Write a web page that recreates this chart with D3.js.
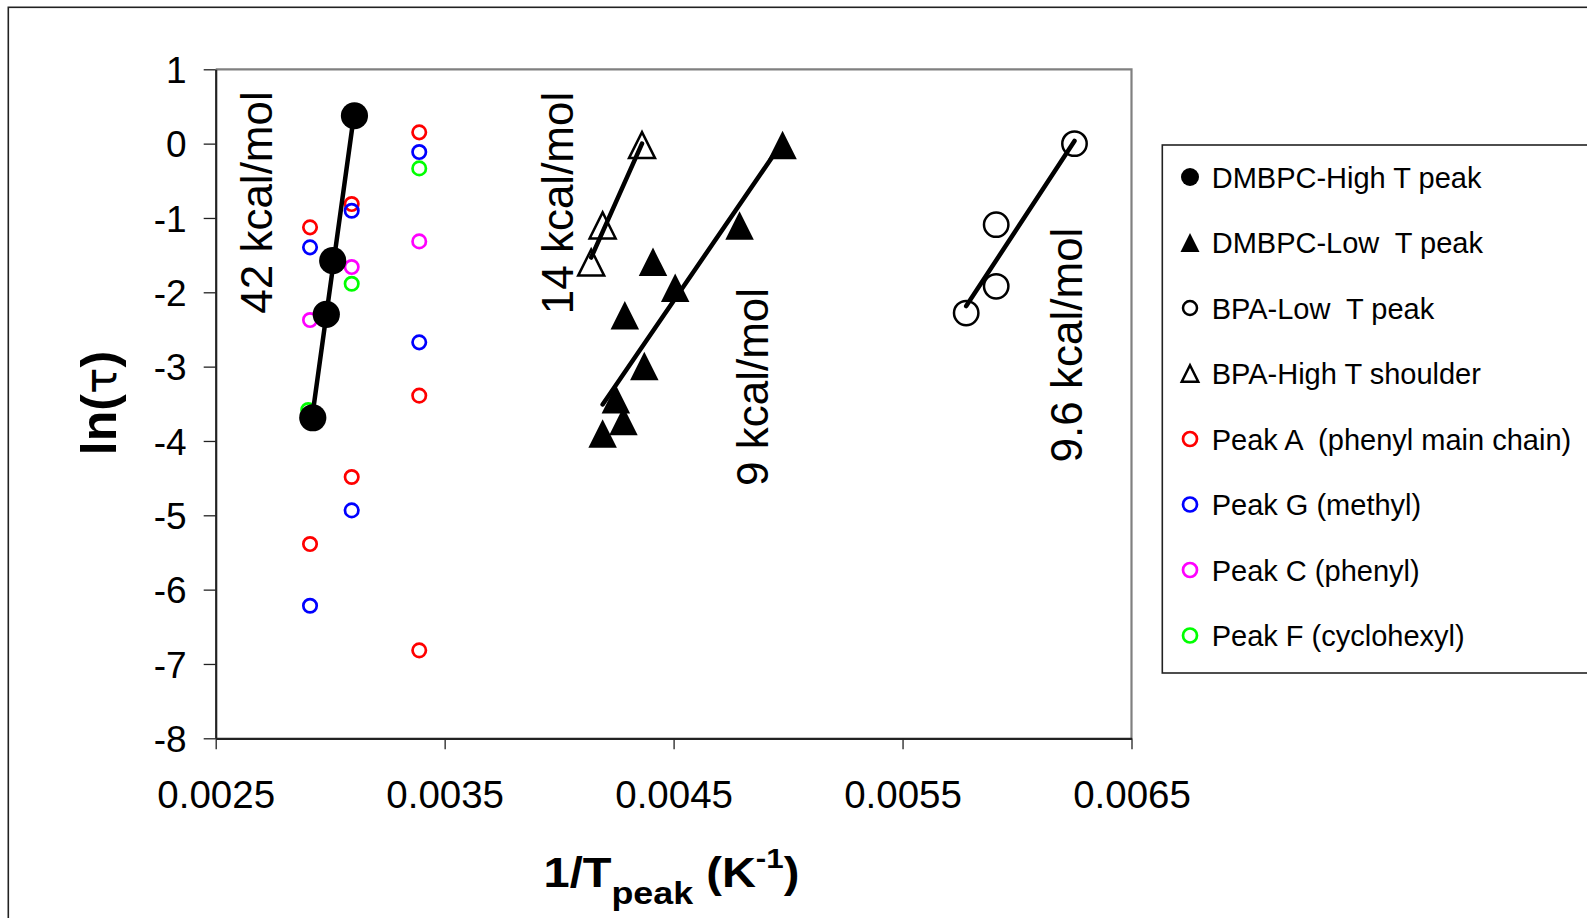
<!DOCTYPE html>
<html><head><meta charset="utf-8">
<script src="https://cdn.jsdelivr.net/npm/d3@7"></script>
<style>
html,body{margin:0;padding:0;background:#fff;}
svg{display:block;font-family:"Liberation Sans",Arial,Helvetica,sans-serif;}
</style>
</head><body>
<svg id="chart" width="1587" height="918"></svg>
<script>
// ---------- data ----------
const xTicks = [0.0025, 0.0035, 0.0045, 0.0055, 0.0065];
const xTickLabels = ["0.0025", "0.0035", "0.0045", "0.0055", "0.0065"];
const yTicks = [1, 0, -1, -2, -3, -4, -5, -6, -7, -8];
const yTickLabels = ["1", "0", "-1", "-2", "-3", "-4", "-5", "-6", "-7", "-8"];

const dmbpcHighX = [0.003106, 0.003011, 0.002983, 0.002924];
const dmbpcHighY = [0.375, -1.575, -2.297, -3.688];

const dmbpcLowX = [0.004976, 0.004788, 0.004410, 0.004507, 0.004287, 0.004372, 0.004248, 0.004281, 0.004190];
const dmbpcLowY = [-0.02, -1.10, -1.59, -1.94, -2.31, -2.99, -3.44, -3.73, -3.90];

const bpaLowX = [0.006251, 0.005909, 0.005909, 0.005778];
const bpaLowY = [0.0, -1.09, -1.92, -2.28];

const bpaHighX = [0.004362, 0.004190, 0.004140];
const bpaHighY = [-0.02, -1.10, -1.60];

const peakAX = [0.002912, 0.002912, 0.003094, 0.003094, 0.003389, 0.003389, 0.003389];
const peakAY = [-1.126, -5.387, -0.813, -4.485, 0.152, -3.390, -6.817];

const peakGX = [0.002912, 0.002912, 0.003094, 0.003094, 0.003389, 0.003389];
const peakGY = [-1.395, -6.217, -0.903, -4.934, -0.113, -2.673];

const peakCX = [0.002912, 0.003094, 0.003389];
const peakCY = [-2.373, -1.660, -1.315];

const peakFX = [0.002904, 0.003094, 0.003389];
const peakFY = [-3.584, -1.885, -0.333];

const legendLabels = ["DMBPC-High T peak", "DMBPC-Low  T peak", "BPA-Low  T peak", "BPA-High T shoulder",
  "Peak A  (phenyl main chain)", "Peak G (methyl)", "Peak C (phenyl)", "Peak F (cyclohexyl)"];

const annotations = ["42 kcal/mol", "14 kcal/mol", "9 kcal/mol", "9.6 kcal/mol"];

// ---------- layout ----------
const svg = d3.select("#chart");
const L = 215.7, R = 1131.5, T = 69.3, B = 738.3;
const x = d3.scaleLinear().domain([0.0025, 0.0065]).range([L, R]);
const y = d3.scaleLinear().domain([-8, 1]).range([B, T]);

// outer chart border
svg.append("rect").attr("x", 8.3).attr("y", 7.3).attr("width", 1700).attr("height", 1000)
  .attr("fill", "none").attr("stroke", "#222").attr("stroke-width", 1.6);

// plot area border (top/right grey)
svg.append("path").attr("d", `M${L},${T}H${R}V${B}`).attr("fill", "none")
  .attr("stroke", "#808080").attr("stroke-width", 2.2);

// axes
const yAxis = d3.axisLeft(y).tickValues(yTicks).tickSize(12).tickSizeOuter(0).tickPadding(17)
  .tickFormat((d, i) => yTickLabels[i]);
const gy = svg.append("g").attr("transform", `translate(${L},0)`).call(yAxis);
gy.select(".domain").attr("stroke", "#222").attr("stroke-width", 2.2);
gy.selectAll(".tick line").attr("stroke", "#222").attr("stroke-width", 1.3);
gy.selectAll(".tick text").attr("fill", "#000").style("font-size", "37px")
  .style("font-family", "'Liberation Sans',Arial,sans-serif").attr("dy", "0.36em");

const xAxis = d3.axisBottom(x).tickValues(xTicks).tickSize(11).tickSizeOuter(0).tickPadding(31)
  .tickFormat((d, i) => xTickLabels[i]);
const gx = svg.append("g").attr("transform", `translate(0,${B})`).call(xAxis);
gx.select(".domain").attr("stroke", "#222").attr("stroke-width", 2.2);
gx.selectAll(".tick line").attr("stroke", "#222").attr("stroke-width", 1.3);
gx.selectAll(".tick text").attr("fill", "#000").style("font-size", "38.5px")
  .style("font-family", "'Liberation Sans',Arial,sans-serif");

// axis titles
const yt = svg.append("text").attr("transform", "translate(116,403) rotate(-90)")
  .attr("text-anchor", "middle").style("font-size", "50px").style("font-weight", "bold");
yt.append("tspan").text("ln(");
yt.append("tspan").style("font-weight", "normal").style("font-family", "'DejaVu Sans',sans-serif").style("font-size", "44px").text("τ");
yt.append("tspan").text(")");

const xt = svg.append("text").attr("transform", "translate(543.5,887) scale(1.12,1)")
  .style("font-weight", "bold").style("font-size", "42px").attr("xml:space", "preserve");
xt.append("tspan").text("1/T");
xt.append("tspan").style("font-size", "32px").attr("dy", 17).text("peak");
xt.append("tspan").attr("dy", -17).text(" (K");
xt.append("tspan").style("font-size", "28px").attr("dy", -19).text("-1");
xt.append("tspan").attr("dy", 19).text(")");

// ---------- markers ----------
function tri(s) { const h = s; return `M0,${-h / 2}L${s / 2},${h / 2}L${-s / 2},${h / 2}Z`; }
function zip(xs, ys) { return xs.map((v, i) => [v, ys[i]]); }

const smallSeries = [
  { xs: peakAX, ys: peakAY, color: "#ff0000" },
  { xs: peakGX, ys: peakGY, color: "#0000ff" },
  { xs: peakCX, ys: peakCY, color: "#ff00ff" },
  { xs: peakFX, ys: peakFY, color: "#00ff00" }
];
smallSeries.forEach(s => {
  svg.append("g").selectAll("circle").data(zip(s.xs, s.ys)).join("circle")
    .attr("cx", d => x(d[0])).attr("cy", d => y(d[1])).attr("r", 6.7)
    .attr("fill", "none").attr("stroke", s.color).attr("stroke-width", 2.7);
});

// DMBPC-High: filled circles
svg.append("g").selectAll("circle").data(zip(dmbpcHighX, dmbpcHighY)).join("circle")
  .attr("cx", d => x(d[0])).attr("cy", d => y(d[1])).attr("r", 13.6).attr("fill", "#000");

// DMBPC-Low: filled triangles
svg.append("g").selectAll("path").data(zip(dmbpcLowX, dmbpcLowY)).join("path")
  .attr("transform", d => `translate(${x(d[0])},${y(d[1])})`).attr("d", tri(28.5)).attr("fill", "#000");

// BPA-High: open triangles
svg.append("g").selectAll("path").data(zip(bpaHighX, bpaHighY)).join("path")
  .attr("transform", d => `translate(${x(d[0])},${y(d[1])})`).attr("d", tri(26))
  .attr("fill", "#fff").attr("stroke", "#000").attr("stroke-width", 2.5).attr("stroke-linejoin", "miter");

// BPA-Low: open circles
svg.append("g").selectAll("circle").data(zip(bpaLowX, bpaLowY)).join("circle")
  .attr("cx", d => x(d[0])).attr("cy", d => y(d[1])).attr("r", 12.2)
  .attr("fill", "#fff").attr("stroke", "#000").attr("stroke-width", 2.5);

// ---------- linear fits (least squares over each series) ----------
function fit(xs, ys) {
  const mx = d3.mean(xs), my = d3.mean(ys);
  let sxy = 0, sxx = 0;
  xs.forEach((v, i) => { sxy += (v - mx) * (ys[i] - my); sxx += (v - mx) * (v - mx); });
  const b = sxy / sxx, a = my - b * mx;
  const x0 = d3.min(xs), x1 = d3.max(xs);
  return [[x0, a + b * x0], [x1, a + b * x1]];
}
const line = d3.line().x(d => x(d[0])).y(d => y(d[1]));
[[dmbpcHighX, dmbpcHighY], [dmbpcLowX, dmbpcLowY], [bpaLowX, bpaLowY], [bpaHighX, bpaHighY]].forEach(([xs, ys]) => {
  svg.append("path").attr("d", line(fit(xs, ys))).attr("fill", "none")
    .attr("stroke", "#000").attr("stroke-width", 4.5).attr("stroke-linecap", "round");
});

// ---------- annotations (rotated) ----------
const annPos = [[272, 202.5], [573.3, 203], [768, 387], [1082, 345]];
annotations.forEach((t, i) => {
  svg.append("text").attr("transform", `translate(${annPos[i][0]},${annPos[i][1]}) rotate(-90)`)
    .attr("text-anchor", "middle").style("font-size", "44px").attr("fill", "#000").text(t);
});

// ---------- legend ----------
const lg = svg.append("g");
lg.append("rect").attr("x", 1162.3).attr("y", 145).attr("width", 600).attr("height", 528)
  .attr("fill", "#fff").attr("stroke", "#222").attr("stroke-width", 1.6);
const legCenter = [177, 242.5, 308, 373.5, 439, 504.5, 570, 635.5];
const mx = 1190;
legendLabels.forEach((t, i) => {
  lg.append("text").attr("x", 1211.7).attr("y", legCenter[i] + 10.5).attr("xml:space", "preserve")
    .style("font-size", "29px").attr("fill", "#000").text(t);
});
lg.append("circle").attr("cx", mx).attr("cy", legCenter[0]).attr("r", 9).attr("fill", "#000");
lg.append("path").attr("transform", `translate(${mx},${legCenter[1]})`).attr("d", tri(19)).attr("fill", "#000");
lg.append("circle").attr("cx", mx).attr("cy", legCenter[2]).attr("r", 7).attr("fill", "#fff")
  .attr("stroke", "#000").attr("stroke-width", 2.5);
lg.append("path").attr("transform", `translate(${mx},${legCenter[3]})`).attr("d", tri(16.5))
  .attr("fill", "#fff").attr("stroke", "#000").attr("stroke-width", 2.5);
smallSeries.forEach((s, k) => {
  lg.append("circle").attr("cx", mx).attr("cy", legCenter[4 + k]).attr("r", 7).attr("fill", "none")
    .attr("stroke", s.color).attr("stroke-width", 2.7);
});
</script>
</body></html>
